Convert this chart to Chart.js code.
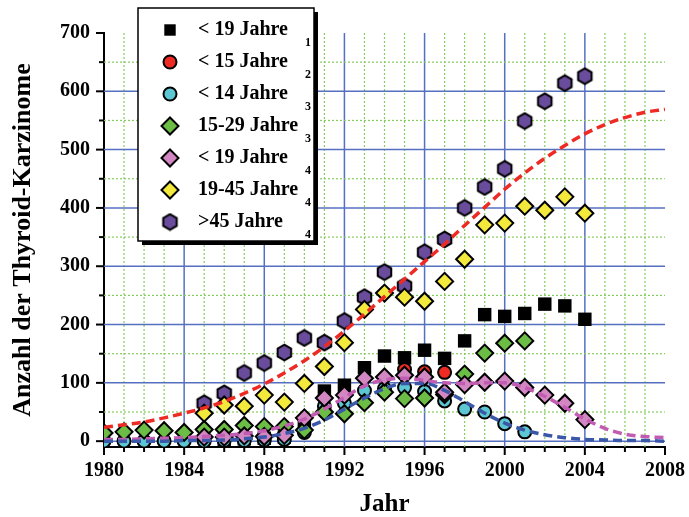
<!DOCTYPE html>
<html>
<head>
<meta charset="utf-8">
<script src="https://cdn.jsdelivr.net/npm/chart.js@4.4.1/dist/chart.umd.min.js"></script>
<style>
  body { margin: 0; background: #fff; }
</style>
</head>
<body>
<canvas id="thyroidChart" width="689" height="517"></canvas>
<script>
// series
const yearsU19a = [1986, 1987, 1988, 1989, 1990, 1991, 1992, 1993, 1994, 1995, 1996, 1997, 1998, 1999, 2000, 2001, 2002, 2003, 2004];
const valuesU19a = [2, 4, 5, 7, 29, 86, 96, 126, 146, 143, 156, 142, 172, 217, 214, 219, 235, 232, 209];

const yearsU15 = [1995, 1996, 1997];
const valuesU15 = [123, 119, 118];

const yearsU14 = [1980, 1981, 1982, 1983, 1984, 1985, 1986, 1987, 1988, 1989, 1990, 1991, 1992, 1993, 1994, 1995, 1996, 1997, 1998, 1999, 2000, 2001];
const valuesU14 = [0, 0, 0, 0, 0, 0, 1, 1, 2, 3, 15, 60, 65, 87, 90, 92, 85, 69, 55, 50, 30, 16];

const years1529 = [1980, 1981, 1982, 1983, 1984, 1985, 1986, 1987, 1988, 1989, 1990, 1991, 1992, 1993, 1994, 1995, 1996, 1997, 1998, 1999, 2000, 2001];
const values1529 = [14, 16, 19, 18, 15, 20, 20, 27, 25, 25, 19, 50, 47, 66, 84, 73, 74, 80, 115, 151, 168, 172];

const yearsU19b = [1985, 1986, 1987, 1988, 1989, 1990, 1991, 1992, 1993, 1994, 1995, 1996, 1997, 1998, 1999, 2000, 2001, 2002, 2003, 2004];
const valuesU19b = [7, 7, 9, 8, 10, 40, 74, 79, 108, 110, 113, 110, 84, 97, 101, 103, 92, 79, 65, 37];

const years1945 = [1985, 1986, 1987, 1988, 1989, 1990, 1991, 1992, 1993, 1994, 1995, 1996, 1997, 1998, 1999, 2000, 2001, 2002, 2003, 2004];
const values1945 = [48, 62, 60, 79, 67, 99, 128, 169, 226, 254, 247, 240, 274, 312, 371, 374, 403, 396, 419, 391];

const yearsO45 = [1985, 1986, 1987, 1988, 1989, 1990, 1991, 1992, 1993, 1994, 1995, 1996, 1997, 1998, 1999, 2000, 2001, 2002, 2003, 2004];
const valuesO45 = [65, 82, 117, 134, 152, 177, 169, 206, 247, 290, 266, 324, 346, 400, 436, 467, 549, 583, 614, 626];

// fitted curves (dashed)
const curveYears = [1980, 1981, 1982, 1983, 1984, 1985, 1986, 1987, 1988, 1989, 1990, 1991, 1992, 1993, 1994,
  1995, 1996, 1997, 1998, 1999, 2000, 2001, 2002, 2003, 2004, 2005, 2006, 2007, 2008];
const curveRed = [24, 28, 33, 40, 48, 57, 68, 82, 98, 117, 138, 162, 189, 218, 248,
  278, 308, 338, 370, 401, 432, 460, 485, 507, 527, 543, 555, 564, 569];
const curveBlue = [0, 0, 0, 0, 1, 1, 2, 4, 7, 13, 22, 36, 55, 74, 90,
  99, 99, 87, 68, 48, 31, 19, 11, 6, 3, 2, 1, 1, 0];
const curveMagenta = [3, 3, 4, 5, 6, 8, 10, 13, 18, 26, 38, 55, 75, 95, 105,
  108, 104, 100, 99, 100, 100, 92, 77, 58, 38, 22, 12, 8, 6];

const legendLabels = ['< 19 Jahre', '< 15 Jahre', '< 14 Jahre', '15-29 Jahre', '< 19 Jahre', '19-45 Jahre', '>45 Jahre'];
const legendRefs = ['1', '2', '3', '3', '4', '4', '4'];
const yTicks = [0, 50, 100, 150, 200, 250, 300, 350, 400, 450, 500, 550, 600, 650, 700];

const SERIF = "'Liberation Serif', 'Times New Roman', serif";
Chart.defaults.font.family = SERIF;
Chart.defaults.color = '#000';

function hexagon(fill) {
  const c = document.createElement('canvas');
  c.width = 19;
  c.height = 19;
  const g = c.getContext('2d');
  g.beginPath();
  for (let i = 0; i < 6; i++) {
    const a = (Math.PI / 3) * i - Math.PI / 2;
    const px = 9.5 + 7.8 * Math.cos(a);
    const py = 9.5 + 7.8 * Math.sin(a);
    if (i === 0) g.moveTo(px, py); else g.lineTo(px, py);
  }
  g.closePath();
  g.fillStyle = fill;
  g.fill();
  g.lineWidth = 2;
  g.strokeStyle = '#000';
  g.stroke();
  return c;
}

function toPoints(xs, ys) {
  return xs.map((x, i) => ({ x, y: ys[i] }));
}

function scatterSet(label, xs, ys, style, fill, radius, order) {
  return {
    type: 'scatter',
    label,
    data: toPoints(xs, ys),
    pointStyle: style,
    pointRadius: radius,
    pointHoverRadius: radius,
    backgroundColor: fill,
    borderColor: '#000',
    borderWidth: style === 'rect' ? 0 : 2,
    order,
  };
}

function curveSet(label, ys, color) {
  return {
    type: 'line',
    label,
    data: toPoints(curveYears, ys),
    borderColor: color,
    borderWidth: 3.5,
    borderDash: [9, 5],
    pointRadius: 0,
    fill: false,
    cubicInterpolationMode: 'monotone',
    order: 1,
  };
}

const scatterSets = [
  scatterSet('< 19 Jahre 1', yearsU19a, valuesU19a, 'rect', '#000000', 9.5, 10),
  scatterSet('< 15 Jahre 2', yearsU15, valuesU15, 'circle', '#ee2a24', 6.5, 9),
  scatterSet('< 14 Jahre 3', yearsU14, valuesU14, 'circle', '#5cc7d3', 6.5, 8),
  scatterSet('15-29 Jahre 3', years1529, values1529, 'rectRot', '#6cbd45', 8.5, 7),
  scatterSet('< 19 Jahre 4', yearsU19b, valuesU19b, 'rectRot', '#d286c2', 8.5, 6),
  scatterSet('19-45 Jahre 4', years1945, values1945, 'rectRot', '#f2e93c', 8.5, 4),
  scatterSet('>45 Jahre 4', yearsO45, valuesO45, hexagon('#6a4c9c'), '#6a4c9c', 8, 5),
];

const gridPlugin = {
  id: 'gridLines',
  beforeDatasetsDraw(chart) {
    const { ctx, chartArea: a, scales: { x, y } } = chart;
    ctx.save();
    for (let yr = 1981; yr < 2008; yr++) {
      const px = x.getPixelForValue(yr);
      ctx.beginPath();
      if (yr % 4 === 0) {
        ctx.setLineDash([]);
        ctx.strokeStyle = '#5570c0';
        ctx.lineWidth = 1.5;
      } else {
        ctx.setLineDash([2, 2]);
        ctx.strokeStyle = '#86cc5e';
        ctx.lineWidth = 1.2;
      }
      ctx.moveTo(px, a.top);
      ctx.lineTo(px, a.bottom);
      ctx.stroke();
    }
    yTicks.forEach((v) => {
      if (v === 700) return;
      const py = y.getPixelForValue(v);
      ctx.beginPath();
      if (v % 100 === 0) {
        ctx.setLineDash([]);
        ctx.strokeStyle = '#5570c0';
        ctx.lineWidth = 1.5;
      } else {
        ctx.setLineDash([2, 2]);
        ctx.strokeStyle = '#86cc5e';
        ctx.lineWidth = 1.2;
      }
      ctx.moveTo(a.left, py);
      ctx.lineTo(a.right, py);
      ctx.stroke();
    });
    ctx.restore();
  },
  afterDraw(chart) {
    const { ctx, chartArea: a, scales: { x, y } } = chart;
    ctx.save();
    ctx.strokeStyle = '#000';
    ctx.lineWidth = 2;
    // tick marks
    for (let yr = 1980; yr <= 2008; yr++) {
      const px = x.getPixelForValue(yr);
      ctx.beginPath();
      ctx.moveTo(px, a.bottom);
      ctx.lineTo(px, a.bottom + (yr % 4 === 0 ? 8 : 5));
      ctx.stroke();
    }
    yTicks.forEach((v) => {
      const py = y.getPixelForValue(v);
      ctx.beginPath();
      ctx.moveTo(a.left, py);
      ctx.lineTo(a.left - (v % 100 === 0 ? 8 : 5), py);
      ctx.stroke();
    });

    // legend box
    const bx = 138, by = 8, bw = 176, bh = 233;
    ctx.fillStyle = '#000';
    ctx.fillRect(bx + 4, by + 4, bw, bh);
    ctx.fillStyle = '#fff';
    ctx.fillRect(bx, by, bw, bh);
    ctx.lineWidth = 1.5;
    ctx.strokeRect(bx, by, bw, bh);

    scatterSets.forEach((ds, i) => {
      const rowY = 30 + i * 32;
      ctx.fillStyle = ds.backgroundColor;
      ctx.strokeStyle = '#000';
      ctx.lineWidth = ds.borderWidth;
      if (ds.borderWidth) {
        Chart.helpers.drawPoint(ctx, { pointStyle: ds.pointStyle, radius: ds.pointRadius, rotation: 0, borderWidth: ds.borderWidth }, 170, rowY);
      } else {
        Chart.helpers.drawPoint(ctx, { pointStyle: ds.pointStyle, radius: ds.pointRadius * 0.85, rotation: 0, borderWidth: 0 }, 170, rowY);
      }
      ctx.fillStyle = '#000';
      ctx.textBaseline = 'middle';
      ctx.textAlign = 'left';
      ctx.font = `bold 20px ${SERIF}`;
      ctx.fillText(legendLabels[i], 198, rowY);
      ctx.font = `bold 12px ${SERIF}`;
      ctx.fillText(legendRefs[i], 305, rowY + 13);
    });
    ctx.restore();
  },
};

const ctx = document.getElementById('thyroidChart').getContext('2d');

new Chart(ctx, {
  type: 'scatter',
  data: {
    datasets: [
      ...scatterSets,
      curveSet('fit >45', curveRed, '#ee2a24'),
      curveSet('fit <14', curveBlue, '#3a57a8'),
      curveSet('fit <19', curveMagenta, '#c25cb2'),
    ],
  },
  options: {
    responsive: false,
    animation: false,
    layout: { padding: { top: 33, right: 21, bottom: 0, left: 0 } },
    plugins: {
      legend: { display: false },
      tooltip: { enabled: false },
    },
    scales: {
      x: {
        type: 'linear',
        min: 1980,
        max: 2008,
        afterFit(scale) { scale.height = 70; },
        border: { color: '#000', width: 2 },
        grid: { color: 'rgba(0,0,0,0)', tickColor: 'rgba(0,0,0,0)', tickLength: 8 },
        ticks: {
          stepSize: 1,
          autoSkip: false,
          maxRotation: 0,
          padding: 4,
          color: '#000',
          font: { size: 20, weight: 'bold' },
          callback: (v) => (v % 4 === 0 ? String(v) : ''),
        },
        title: {
          display: true,
          text: 'Jahr',
          color: '#000',
          font: { size: 25, weight: 'bold', lineHeight: 1 },
          padding: { top: 0, bottom: 0 },
        },
      },
      y: {
        min: -10,
        max: 700,
        afterFit(scale) { scale.width = 104; },
        afterBuildTicks(scale) { scale.ticks = yTicks.map((v) => ({ value: v })); },
        border: { color: '#000', width: 2 },
        grid: { color: 'rgba(0,0,0,0)', tickColor: 'rgba(0,0,0,0)', tickLength: 8 },
        ticks: {
          padding: 6,
          color: '#000',
          font: { size: 20, weight: 'bold' },
          callback: (v) => (v % 100 === 0 ? String(v) : ''),
        },
        title: {
          display: true,
          text: 'Anzahl der Thyroid-Karzinome',
          color: '#000',
          font: { size: 26, weight: 'bold' },
          padding: { top: 8, bottom: 0 },
        },
      },
    },
  },
  plugins: [gridPlugin],
});
</script>
</body>
</html>
